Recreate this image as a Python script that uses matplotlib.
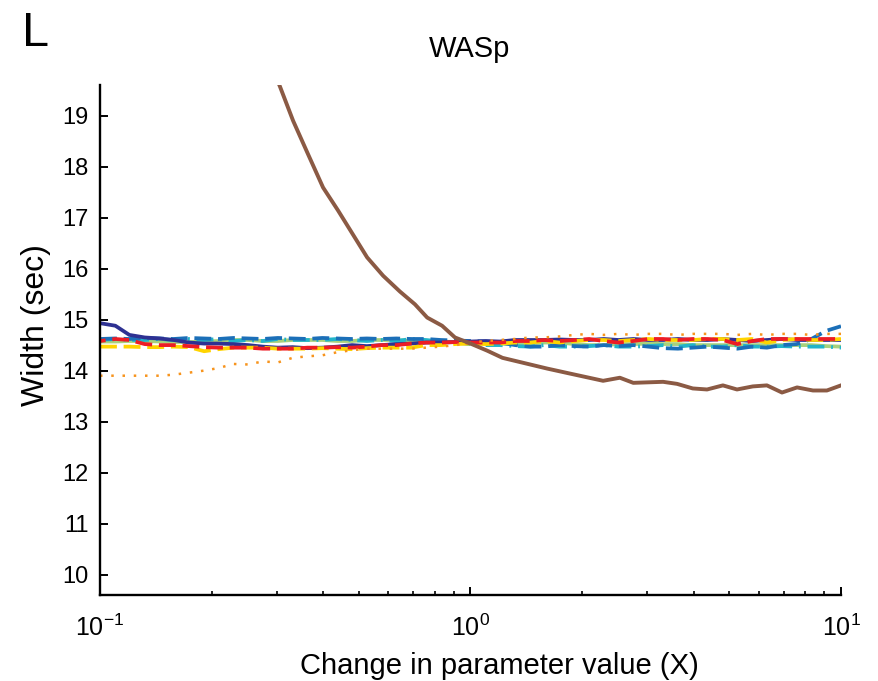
import matplotlib
matplotlib.use("Agg")
import matplotlib.pyplot as plt
from matplotlib.ticker import LogLocator, FixedLocator, NullLocator

plt.rcParams['font.family'] = ['Liberation Sans', 'DejaVu Sans']
plt.rcParams['mathtext.fontset'] = 'custom'
plt.rcParams['mathtext.rm'] = 'Liberation Sans'
plt.rcParams['mathtext.default'] = 'regular'
plt.rcParams['axes.unicode_minus'] = False

# ---- data ----
x_grid = [0.100, 0.110, 0.120, 0.132, 0.145, 0.158, 0.174, 0.191, 0.209, 0.229,
          0.251, 0.275, 0.302, 0.331, 0.363, 0.398, 0.437, 0.479, 0.525, 0.575,
          0.631, 0.692, 0.759, 0.832, 0.912, 1.00, 1.10, 1.20, 1.32, 1.45,
          1.58, 1.74, 1.91, 2.09, 2.29, 2.51, 2.75, 3.02, 3.31, 3.63,
          3.98, 4.37, 4.79, 5.25, 5.75, 6.31, 6.92, 7.59, 8.32, 9.12, 10.0]

navy = [14.93, 14.88, 14.70, 14.65, 14.63, 14.60, 14.55, 14.53, 14.53, 14.52,
        14.50, 14.47, 14.45, 14.46, 14.44, 14.45, 14.47, 14.50, 14.48, 14.50,
        14.52, 14.53, 14.55, 14.55, 14.56, 14.57, 14.58, 14.57, 14.60, 14.60,
        14.60, 14.61, 14.60, 14.60, 14.62, 14.60, 14.62, 14.60, 14.60, 14.62,
        14.60, 14.60, 14.62, 14.60, 14.58, 14.60, 14.62, 14.60, 14.60, 14.60, 14.60]

blue = [14.62, 14.63, 14.62, 14.64, 14.63, 14.62, 14.64, 14.63, 14.62, 14.64,
        14.63, 14.62, 14.64, 14.63, 14.62, 14.64, 14.63, 14.62, 14.63, 14.62,
        14.63, 14.62, 14.62, 14.60, 14.59, 14.58, 14.57, 14.55, 14.50, 14.47,
        14.47, 14.50, 14.48, 14.47, 14.50, 14.48, 14.50, 14.47, 14.44, 14.43,
        14.45, 14.47, 14.45, 14.43, 14.47, 14.45, 14.50, 14.52, 14.62, 14.78, 14.87]

cyan = [14.60, 14.62, 14.60, 14.60, 14.62, 14.60, 14.62, 14.60, 14.62, 14.58,
        14.60, 14.58, 14.62, 14.60, 14.60, 14.60, 14.62, 14.60, 14.58, 14.60,
        14.58, 14.62, 14.60, 14.57, 14.55, 14.52, 14.50, 14.50, 14.48, 14.47,
        14.50, 14.47, 14.47, 14.48, 14.50, 14.47, 14.47, 14.48, 14.50, 14.47,
        14.50, 14.47, 14.47, 14.50, 14.47, 14.47, 14.48, 14.47, 14.47, 14.47, 14.45]

green = [14.57, 14.57, 14.58, 14.58, 14.57, 14.56, 14.56, 14.57, 14.58, 14.60,
         14.60, 14.58, 14.58, 14.60, 14.60, 14.60, 14.58, 14.58, 14.60, 14.60,
         14.60, 14.58, 14.58, 14.57, 14.56, 14.55, 14.53, 14.53, 14.52, 14.53,
         14.55, 14.55, 14.52, 14.50, 14.50, 14.52, 14.52, 14.53, 14.52, 14.52,
         14.50, 14.50, 14.50, 14.50, 14.50, 14.50, 14.50, 14.50, 14.50, 14.48, 14.47]

yellow = [14.47, 14.47, 14.47, 14.46, 14.46, 14.47, 14.46, 14.38, 14.42, 14.45,
          14.45, 14.45, 14.43, 14.43, 14.43, 14.44, 14.43, 14.42, 14.44, 14.45,
          14.45, 14.45, 14.50, 14.50, 14.52, 14.53, 14.52, 14.53, 14.55, 14.55,
          14.58, 14.55, 14.58, 14.60, 14.60, 14.58, 14.60, 14.62, 14.60, 14.60,
          14.60, 14.62, 14.62, 14.60, 14.62, 14.55, 14.60, 14.62, 14.60, 14.60, 14.62]

red = [14.58, 14.62, 14.60, 14.52, 14.50, 14.50, 14.48, 14.46, 14.45, 14.45,
       14.45, 14.43, 14.43, 14.43, 14.45, 14.45, 14.46, 14.45, 14.47, 14.50,
       14.50, 14.53, 14.55, 14.55, 14.56, 14.55, 14.55, 14.55, 14.58, 14.58,
       14.60, 14.58, 14.60, 14.62, 14.58, 14.55, 14.58, 14.62, 14.62, 14.60,
       14.62, 14.62, 14.60, 14.52, 14.58, 14.62, 14.62, 14.62, 14.62, 14.62, 14.62]

orange = [13.90, 13.90, 13.90, 13.90, 13.90, 13.92, 13.96, 14.00, 14.05, 14.13,
          14.12, 14.18, 14.16, 14.25, 14.28, 14.30, 14.36, 14.40, 14.43, 14.43,
          14.43, 14.43, 14.45, 14.47, 14.50, 14.55, 14.58, 14.60, 14.62, 14.65,
          14.65, 14.67, 14.70, 14.72, 14.70, 14.72, 14.70, 14.72, 14.72, 14.70,
          14.72, 14.72, 14.72, 14.70, 14.72, 14.70, 14.72, 14.72, 14.70, 14.72, 14.72]

brown_x = [0.295, 0.306, 0.332, 0.364, 0.400, 0.439, 0.526, 0.581, 0.645, 0.708,
           0.764, 0.838, 0.908, 1.00, 1.11, 1.22, 1.61, 1.86, 2.28, 2.53,
           2.75, 3.31, 3.61, 3.98, 4.35, 4.80, 5.24, 5.78, 6.31, 6.93,
           7.61, 8.40, 9.16, 10.0]
brown_y = [19.85, 19.57, 18.90, 18.25, 17.59, 17.14, 16.22, 15.86, 15.55, 15.30,
           15.04, 14.88, 14.65, 14.53, 14.39, 14.25, 14.04, 13.94, 13.80, 13.86,
           13.76, 13.78, 13.74, 13.65, 13.63, 13.71, 13.63, 13.69, 13.71, 13.57,
           13.67, 13.61, 13.61, 13.71]

y_ticks = [10, 11, 12, 13, 14, 15, 16, 17, 18, 19]

# ---- figure ----
fig = plt.figure(figsize=(8.79, 6.81), dpi=100)
ax = fig.add_axes([100 / 879, 1 - 595 / 681, (841 - 100) / 879, (595 - 85) / 681])

lw = 2.7
ax.plot(x_grid, green, color='#a8d17c', lw=lw)
ax.plot(x_grid, cyan, color='#22b4c9', lw=lw, linestyle=(0, (4.5, 1.8, 0.5, 1.8)))
ax.plot(x_grid, blue, color='#1b6fb8', lw=lw, linestyle=(0, (4.5, 1.8)))
ax.plot(x_grid, navy, color='#2e3192', lw=lw)
ax.plot(x_grid, yellow, color='#ffd400', lw=lw, linestyle=(0, (4.5, 1.8)))
ax.plot(x_grid, red, color='#ed1c24', lw=lw, linestyle=(3, (4.5, 1.8)))
ax.plot(x_grid, orange, color='#f7941d', lw=1.8, linestyle=(0, (1.0, 3.5)))
ax.plot(brown_x, brown_y, color='#8b5a44', lw=2.8)

ax.set_xscale('log')
ax.set_xlim(0.1, 10)
ax.set_ylim(9.6, 19.6)
ax.set_yticks(y_ticks)
ax.yaxis.set_minor_locator(NullLocator())
ax.xaxis.set_major_locator(FixedLocator([0.1, 1, 10]))
ax.xaxis.set_minor_locator(LogLocator(base=10, subs=[2, 3, 4, 5, 6, 7, 8, 9]))

for s in ['top', 'right']:
    ax.spines[s].set_visible(False)
for s in ['left', 'bottom']:
    ax.spines[s].set_linewidth(1.7)
ax.tick_params(axis='both', which='major', direction='in', length=5.5, width=1.4,
               labelsize=17, pad=8)
ax.tick_params(axis='x', which='minor', direction='in', length=3, width=1.2)
ax.tick_params(axis='x', which='major', labelsize=18, pad=14)

fig.text(470 / 879, 1 - 49 / 681, 'WASp', ha='center', va='center', fontsize=21)
fig.text(22 / 879, 1 - 34 / 681, 'L', ha='left', va='center', fontsize=35)
fig.text(36 / 879, 1 - 325 / 681, 'Width (sec)', rotation=90, ha='center', va='center', fontsize=23)
fig.text(499 / 879, 1 - 666 / 681, 'Change in parameter value (X)', ha='center', va='center', fontsize=21)

fig.savefig('out.png', dpi=100)
